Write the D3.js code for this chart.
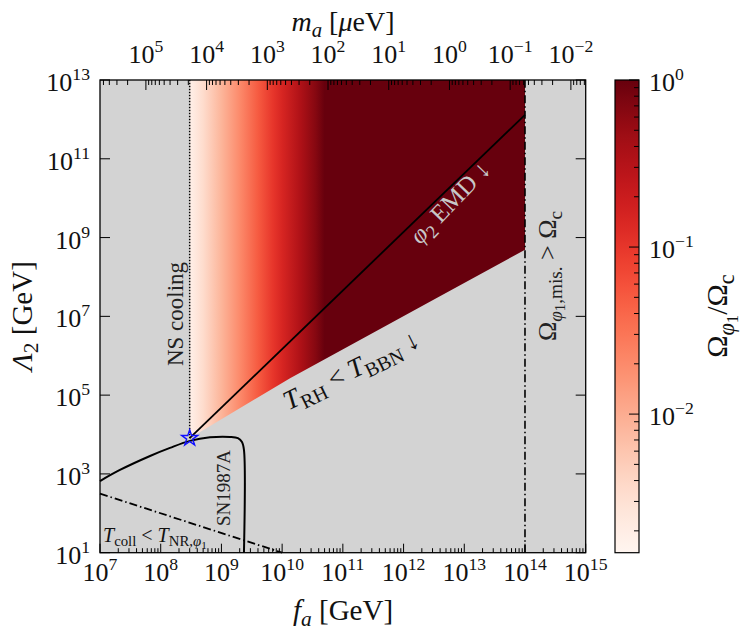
<!DOCTYPE html>
<html><head><meta charset="utf-8">
<script src="https://cdn.jsdelivr.net/npm/d3@7"></script>
<style>
body{margin:0;background:#fff}
svg{display:block}
</style>
</head><body>
<svg id="c" width="747" height="635" font-family="'Liberation Serif', 'Times New Roman', Tinos, 'DejaVu Serif', 'Noto Serif', serif"></svg>
<script>
// ---------- data ----------
const faTicks = [1e7,1e8,1e9,1e10,1e11,1e12,1e13,1e14,1e15];
const lambdaTicks = [1e1,1e3,1e5,1e7,1e9,1e11,1e13];
const maTicks = [1e5,1e4,1e3,1e2,1e1,1e0,1e-1,1e-2];
const cbTicks = [1e-2,1e-1,1e0];
const maConv = 5.7e12;               // m_a[μeV] * f_a[GeV]
// relic fraction vs f_a (colour only depends on f_a)
const omegaFa  = [3e8, 5e8, 1e9, 2e9, 4e9, 7e9, 1e10, 2e10, 3.5e10, 5e10, 1e14];
const omegaVal = [1.8e-3, 3.5e-3, 8.5e-3, 0.02, 0.05, 0.1, 0.15, 0.35, 0.65, 1, 1];
// lower boundary of the allowed region (T_RH < T_BBN)
const bbnFa = [3e8, 1.35e10, 3.06e12, 1e14];
const bbnL  = [8.1e3, 2.7e5, 2.6e7, 4.9e8];
// phi2 EMD line
const emdFa = [3e8, 1e14];
const emdL  = [8.1e3, 1.3e12];
// NS cooling bound (vertical)
const nsFa = 3e8;
const nsL = [8.1e3, 1e13];
// misalignment overproduction bound (vertical)
const misFa = 1e14;
// T_coll < T_NR line
const collFa = [1e7, 1e10];
const collL  = [316, 10];
// SN1987A contour
const snFa = [1e7, 2.13e7, 6.67e7, 1.42e8, 3.03e8, 6.48e8, 1.38e9, 1.87e9, 2.18e9, 2.35e9, 2.35e9];
const snL  = [660, 1260, 2850, 4570, 6900, 8500, 8700, 8100, 6500, 4100, 10];
// star marker
const starPt = [3e8, 8.1e3];
const cbDomain = [1.48e-3, 1];

// ---------- scales ----------
const X0 = 100, X1 = 585.7, Y0 = 80, Y1 = 552.7;
const x = d3.scaleLog().domain([1e7,1e15]).range([X0,X1]);
const y = d3.scaleLog().domain([1e1,1e13]).range([Y1,Y0]);
const xm = d3.scaleLog().domain([maConv/1e7, maConv/1e15]).range([X0,X1]);
const CBX0 = 615, CBX1 = 639;
const cb = d3.scaleLog().domain(cbDomain).range([Y1, Y0]);
const color = d3.scaleSequentialLog(d3.interpolateReds).domain(cbDomain);

const svg = d3.select("#c");
const defs = svg.append("defs");
const FONT = "'Liberation Serif', 'Times New Roman', Tinos, 'DejaVu Serif', 'Noto Serif', serif";

// rich text helper
function rich(g, parts, base, opts={}) {
  const t = g.append("text").attr("font-size", base).attr("font-family", FONT).attr("fill", opts.fill || "#111");
  if (opts.anchor) t.attr("text-anchor", opts.anchor);
  let cur = 0;
  parts.forEach(p => {
    const lvl = p.s || 0; // 0 normal, 1 sup, -1 sub, -2 subsub
    let shift = 0, size = base;
    if (lvl === 1) { shift = -0.42*base; size = 0.68*base; }
    if (lvl === -1) { shift = 0.22*base; size = 0.74*base; }
    if (lvl === -2) { shift = 0.36*base; size = 0.56*base; }
    const ts = t.append("tspan").text(p.t).attr("font-size", size).attr("dy", shift - cur);
    if (p.it) ts.attr("font-style", "italic");
    if (p.dx) ts.attr("dx", p.dx);
    cur = shift;
  });
  return t;
}
function expParts(v) {
  const e = Math.round(Math.log10(v));
  return [{t:"10"},{t:(e<0?"\u2212":"")+Math.abs(e), s:1}];
}

// ---------- plot background ----------
svg.append("rect").attr("x",X0).attr("y",Y0).attr("width",X1-X0).attr("height",Y1-Y0).attr("fill","#d3d3d3");

// gradient for the allowed region
const gx0 = x(omegaFa[0]), gx1 = x(omegaFa[omegaFa.length-1]);
const grad = defs.append("linearGradient").attr("id","omg").attr("gradientUnits","userSpaceOnUse")
  .attr("x1", gx0).attr("x2", gx1).attr("y1",0).attr("y2",0);
omegaFa.forEach((f,i) => {
  grad.append("stop").attr("offset", (x(f)-gx0)/(gx1-gx0)).attr("stop-color", color(omegaVal[i]));
});
const regionPts = [[nsFa, 1e13],[misFa, 1e13]];
for (let i = bbnFa.length-1; i >= 0; i--) regionPts.push([bbnFa[i], bbnL[i]]);
const ln = d3.line().x(d=>x(d[0])).y(d=>y(d[1]));
svg.append("path").attr("d", ln(regionPts) + "Z").attr("fill","url(#omg)");

// lines
svg.append("path").attr("d", ln(emdFa.map((f,i)=>[f,emdL[i]]))).attr("stroke","#000").attr("stroke-width",1.8).attr("fill","none");
svg.append("path").attr("d", ln(nsL.map(l=>[nsFa,l]))).attr("stroke","#000").attr("stroke-width",1.5).attr("stroke-dasharray","1.5,1.5").attr("fill","none");
svg.append("path").attr("d", ln([[misFa,1e1],[misFa,1e13]])).attr("stroke","#000").attr("stroke-width",1.6).attr("stroke-dasharray","8,3,1.5,3").attr("fill","none");
svg.append("path").attr("d", ln(collFa.map((f,i)=>[f,collL[i]]))).attr("stroke","#000").attr("stroke-width",1.8).attr("stroke-dasharray","8,3,1.5,3").attr("fill","none");
svg.append("path").attr("d", d3.line().x(d=>x(d[0])).y(d=>y(d[1])).curve(d3.curveCatmullRom.alpha(0.5))(snFa.map((f,i)=>[f,snL[i]])))
  .attr("stroke","#000").attr("stroke-width",2).attr("fill","none");

// star
svg.append("path").attr("d", d3.symbol().type(d3.symbolStar).size(80)())
  .attr("transform", `translate(${x(starPt[0])},${y(starPt[1])})`)
  .attr("fill","none").attr("stroke","#1010ff").attr("stroke-width",1.4);

// annotations
function rotG(cx, cy, ang) { return svg.append("g").attr("transform", `translate(${cx},${cy}) rotate(${ang})`); }
rich(rotG(183, 314, -90), [{t:"NS cooling"}], 23, {anchor:"middle", fill:"#222"});
rich(rotG(556, 276, -90), [{t:"\u03A9"},{t:"\u03C6",it:true,s:-1},{t:"1",s:-2},{t:",mis.",s:-1},{t:" > \u03A9"},{t:"c",s:-1}], 26, {anchor:"middle", fill:"#222"});
rich(rotG(230, 488, -90), [{t:"SN1987A"}], 19, {anchor:"middle", fill:"#222"});
rich(svg.append("g").attr("transform","translate(103,542)"), [{t:"T",it:true},{t:"coll",s:-1},{t:" < "},{t:"T",it:true},{t:"NR,",s:-1},{t:"\u03C6",it:true,s:-1},{t:"1",s:-2}], 20, {fill:"#111"});
rich(rotG(355, 378, -26), [{t:"T",it:true},{t:"RH",s:-1},{t:" < "},{t:"T",it:true},{t:"BBN",s:-1},{t:" \u2193"}], 27, {anchor:"middle", fill:"#111"});
rich(rotG(456, 208, -46), [{t:"\u03C6",it:true},{t:"2",s:-1},{t:" EMD \u2193"}], 25, {anchor:"middle", fill:"#c8c8c8"});

// ---------- ticks ----------
const tk = svg.append("g").attr("stroke","#000").attr("stroke-width",1);
for (let e = 7; e < 15; e++) for (let k = 2; k <= 9; k++) {
  const px = x(k*Math.pow(10,e));
  tk.append("line").attr("x1",px).attr("x2",px).attr("y1",Y1).attr("y2",Y1-4.5);
}
faTicks.forEach(v => tk.append("line").attr("x1",x(v)).attr("x2",x(v)).attr("y1",Y1).attr("y2",Y1-9));
for (let e = -3; e <= 5; e++) for (let k = 2; k <= 9; k++) {
  const v = k*Math.pow(10,e);
  if (v < maConv/1e15 || v > maConv/1e7) continue;
  const px = xm(v);
  tk.append("line").attr("x1",px).attr("x2",px).attr("y1",Y0).attr("y2",Y0+5);
}
maTicks.forEach(v => tk.append("line").attr("x1",xm(v)).attr("x2",xm(v)).attr("y1",Y0).attr("y2",Y0+10));
lambdaTicks.forEach(v => {
  tk.append("line").attr("x1",X0).attr("x2",X0+10).attr("y1",y(v)).attr("y2",y(v));
  tk.append("line").attr("x1",X1).attr("x2",X1-10).attr("y1",y(v)).attr("y2",y(v));
});
svg.append("rect").attr("x",X0).attr("y",Y0).attr("width",X1-X0).attr("height",Y1-Y0).attr("fill","none").attr("stroke","#000").attr("stroke-width",1.3);

// tick labels
const lab = svg.append("g");
faTicks.forEach(v => rich(lab.append("g").attr("transform",`translate(${x(v)},581)`), expParts(v), 26, {anchor:"middle"}));
maTicks.forEach(v => rich(lab.append("g").attr("transform",`translate(${xm(v)},63)`), expParts(v), 26, {anchor:"middle"}));
lambdaTicks.forEach(v => rich(lab.append("g").attr("transform",`translate(90,${y(v)+11})`), expParts(v), 26, {anchor:"end"}));

// axis titles
rich(svg.append("g").attr("transform","translate(343,620)"), [{t:"f",it:true},{t:"a",it:true,s:-1},{t:" [GeV]"}], 29, {anchor:"middle"});
rich(svg.append("g").attr("transform","translate(343,31)"), [{t:"m",it:true},{t:"a",it:true,s:-1},{t:" ["},{t:"\u03BC",it:true},{t:"eV]"}], 28, {anchor:"middle"});
rich(rotG(32, 316, -90), [{t:"\u039B",it:true},{t:"2",s:-1},{t:" [GeV]"}], 29, {anchor:"middle"});

// ---------- colorbar ----------
const cgrad = defs.append("linearGradient").attr("id","cbg").attr("x1",0).attr("x2",0).attr("y1",1).attr("y2",0);
d3.range(0, 1.0001, 0.02).forEach(t => cgrad.append("stop").attr("offset", t).attr("stop-color", d3.interpolateReds(t)));
svg.append("rect").attr("x",CBX0).attr("y",Y0).attr("width",CBX1-CBX0).attr("height",Y1-Y0).attr("fill","url(#cbg)");
const ctk = svg.append("g").attr("stroke","#000").attr("stroke-width",1);
for (let e = -3; e <= 0; e++) for (let k = 2; k <= 9; k++) {
  const v = k*Math.pow(10,e);
  if (v < cbDomain[0] || v > cbDomain[1]) continue;
  ctk.append("line").attr("x1",CBX1).attr("x2",CBX1-5).attr("y1",cb(v)).attr("y2",cb(v));
}
cbTicks.forEach(v => ctk.append("line").attr("x1",CBX1).attr("x2",CBX1-10).attr("y1",cb(v)).attr("y2",cb(v)));
svg.append("rect").attr("x",CBX0).attr("y",Y0).attr("width",CBX1-CBX0).attr("height",Y1-Y0).attr("fill","none").attr("stroke","#000").attr("stroke-width",1.2);
cbTicks.forEach(v => rich(lab.append("g").attr("transform",`translate(649,${cb(v)+11})`), expParts(v), 26, {anchor:"start"}));
rich(rotG(727, 316, -90), [{t:"\u03A9"},{t:"\u03C6",it:true,s:-1},{t:"1",s:-2},{t:"/\u03A9"},{t:"c",s:-1}], 30, {anchor:"middle"});
</script>
</body></html>
